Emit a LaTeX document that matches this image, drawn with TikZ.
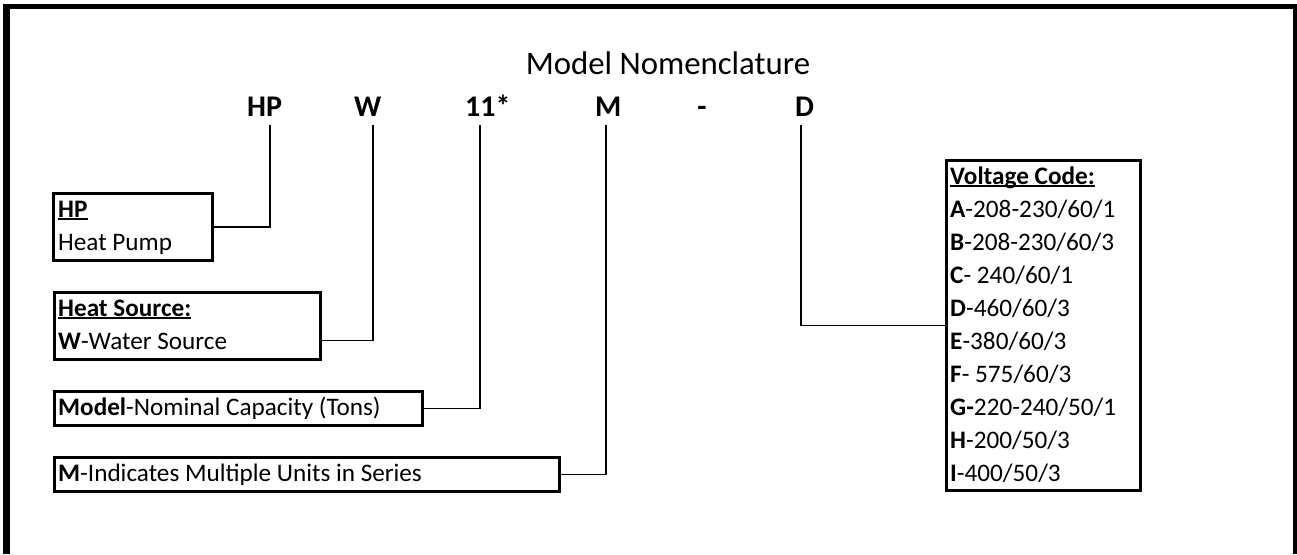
\documentclass[tikz,border=0pt]{standalone}
\usepackage{fontspec}
\setmainfont{Carlito}
\newcommand\myul[1]{\setbox0\hbox{#1}\rlap{\rule[-3pt]{\wd0}{1.6pt}}\box0}
\begin{document}
\begin{tikzpicture}[x=1pt,y=-1pt,
  body/.style={anchor=base west, inner sep=0pt, font=\fontsize{25.2}{30}\selectfont},
  hdr/.style={anchor=base west, inner sep=0pt, font=\fontsize{30}{36}\selectfont\bfseries},
  box/.style={draw, line width=3pt, anchor=north west, inner sep=0pt},
  conn/.style={line width=1.8pt}]
\useasboundingbox (0,0) rectangle (1297,554);
% frame
\draw[line width=7pt] (6.5,554) -- (6.5,6.5);
\draw[line width=5pt] (3,6.5) -- (1297,6.5);
\draw[line width=4pt] (1295,4) -- (1295,554);
% title
\node[anchor=base, inner sep=0pt, font=\fontsize{32.8}{38}\selectfont] (title) at (668,74) {Model Nomenclature};
% headers
\node[hdr] (hHP) at (247,116) {HP};
\node[hdr] (hW) at (354,116) {W};
\node[hdr] (h11) at (465,116) {11*};
\node[hdr] (hM) at (595,116) {M};
\node[hdr, anchor=base] (hdash) at (702,116) {-};
\node[hdr] (hD) at (795,116) {D};
% connector starts
\coordinate (cHP) at (270,125);
\coordinate (cW) at (373,125);
\coordinate (c11) at (480,125);
\coordinate (cM) at (606,125);
\coordinate (cD) at (801,125);
% boxes
\node[box, minimum width=159pt, minimum height=67pt] (hpbox) at (52,192) {};
\node[body] (hpt1) at (58,217) {\textbf{\myul{HP}}};
\node[body] (hpt2) at (58,250) {Heat Pump};
\node[box, minimum width=266pt, minimum height=67pt] (hsbox) at (53,291) {};
\node[body] (hst1) at (58,316) {\textbf{\myul{Heat Source:}}};
\node[body] (hst2) at (58,349) {\textbf{W}-Water Source};
\node[box, minimum width=368pt, minimum height=34pt] (modbox) at (53,390) {};
\node[body] (modt) at (58,415) {\textbf{Model}-Nominal Capacity (Tons)};
\node[box, minimum width=505pt, minimum height=34pt] (mbox) at (53,456) {};
\node[body] (mt) at (58,481) {\textbf{M}-Indicates Multiple Units in Series};
\node[box, minimum width=194pt, minimum height=330pt] (vbox) at (945,159) {};
\node[body] (v0) at (950,184) {\textbf{\myul{Voltage Code:}}};
\node[body] (v1) at (950,217) {\textbf{A}-208-230/60/1};
\node[body] (v2) at (950,250) {\textbf{B}-208-230/60/3};
\node[body] (v3) at (950,283) {\textbf{C}- 240/60/1};
\node[body] (v4) at (950,316) {\textbf{D}-460/60/3};
\node[body] (v5) at (950,349) {\textbf{E}-380/60/3};
\node[body] (v6) at (950,382) {\textbf{F}- 575/60/3};
\node[body] (v7) at (950,415) {\textbf{G-}220-240/50/1};
\node[body] (v8) at (950,448) {\textbf{H}-200/50/3};
\node[body] (v9) at (950,481) {\textbf{I}-400/50/3};
% connectors
\draw[conn] (cHP) |- (hpbox.east);
\draw[conn] (cW) |- ([yshift=-14.5pt]hsbox.east);
\draw[conn] (c11) |- (modbox.east);
\draw[conn] (cM) |- (mbox.east);
\draw[conn] (cD) |- (vbox.west);
\end{tikzpicture}
\end{document}
